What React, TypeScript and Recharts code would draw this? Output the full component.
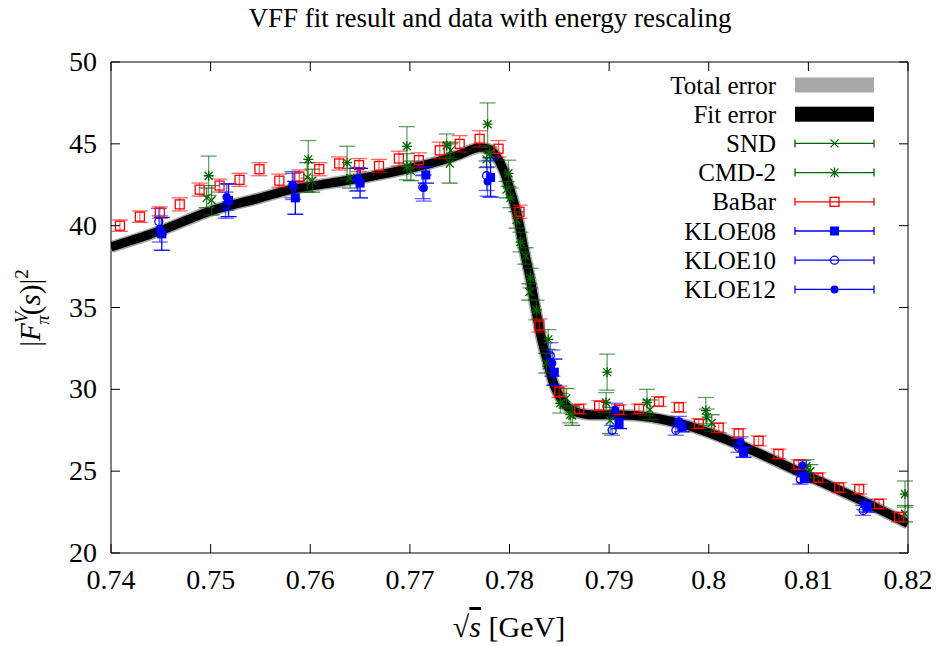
import React from 'react';
import {
  ComposedChart, Line, Scatter, XAxis, YAxis, ErrorBar,
} from 'recharts';

// fit curve (central value)
const FIT_X = [0.74, 0.745, 0.75, 0.755, 0.758, 0.762, 0.766, 0.77, 0.773, 0.775, 0.7762, 0.777, 0.7778, 0.7786, 0.7794, 0.7801, 0.7808, 0.7814, 0.7821, 0.7826, 0.7831, 0.7838, 0.7844, 0.785, 0.7856, 0.7862, 0.787, 0.788, 0.79, 0.7925, 0.795, 0.7975, 0.8, 0.8025, 0.805, 0.8075, 0.81, 0.815, 0.82];
const FIT_Y = [38.7, 39.7, 40.9, 41.7, 42.2, 42.6, 43.0, 43.5, 43.95, 44.35, 44.65, 44.78, 44.7, 44.3, 43.4, 42.1, 40.6, 38.7, 36.7, 35.0, 33.4, 31.7, 30.4, 29.6, 29.05, 28.75, 28.55, 28.45, 28.45, 28.4, 28.2, 27.85, 27.35, 26.75, 26.1, 25.4, 24.7, 23.3, 21.8];

const SND_X = [0.7496, 0.7501, 0.7597, 0.7602, 0.7640, 0.7701, 0.7741, 0.7740, 0.7777, 0.7797, 0.7807, 0.7816, 0.7820, 0.7837, 0.7857, 0.7863, 0.7901, 0.7941, 0.8003, 0.8102, 0.8197];
const SND_Y = [41.7, 41.55, 42.95, 42.75, 42.9, 43.35, 44.6, 43.8, 44.05, 42.2, 40.35, 38.15, 35.95, 31.6, 29.45, 28.4, 28.1, 28.75, 27.95, 25.0, 22.4];
const SND_E = [0.6, 0.9, 0.9, 0.7, 0.6, 0.6, 0.5, 1.2, 0.5, 0.5, 0.5, 0.5, 0.5, 0.6, 0.6, 0.6, 0.8, 0.6, 0.5, 0.4, 0.5];

const CMD_X = [0.7498, 0.7598, 0.7637, 0.7697, 0.7697, 0.7737, 0.7778, 0.7780, 0.7799, 0.7801, 0.7811, 0.7821, 0.7827, 0.7839, 0.7851, 0.7861, 0.7898, 0.7897, 0.7938, 0.7997, 0.7998, 0.8098, 0.8197];
const CMD_Y = [43.05, 44.05, 43.85, 44.85, 43.6, 44.9, 46.2, 44.4, 43.2, 41.7, 39.0, 36.8, 34.85, 33.05, 29.15, 28.45, 31.05, 29.2, 29.2, 28.7, 28.3, 25.3, 23.6];
const CMD_E = [1.2, 1.15, 1.0, 1.2, 0.8, 0.7, 1.3, 0.4, 0.8, 0.6, 0.6, 0.6, 0.6, 0.6, 0.6, 0.5, 1.1, 0.6, 0.8, 0.8, 0.5, 0.4, 0.8];

const BABAR_X = [0.7409, 0.7429, 0.7449, 0.7469, 0.7489, 0.7509, 0.7529, 0.7549, 0.7569, 0.7589, 0.7609, 0.7629, 0.7649, 0.7669, 0.7689, 0.7709, 0.773, 0.775, 0.777, 0.7789, 0.781, 0.783, 0.785, 0.787, 0.789, 0.791, 0.793, 0.795, 0.797, 0.799, 0.801, 0.803, 0.805, 0.807, 0.809, 0.811, 0.8131, 0.8151, 0.8171, 0.8191];
const BABAR_Y = [40.0, 40.55, 40.8, 41.3, 42.2, 42.45, 42.8, 43.45, 42.75, 43.0, 43.45, 43.8, 43.7, 43.65, 44.1, 44.0, 44.6, 45.0, 45.3, 44.7, 40.85, 33.9, 29.85, 28.8, 29.0, 28.75, 28.8, 29.25, 28.9, 27.9, 27.65, 27.3, 26.85, 26.05, 25.4, 24.6, 24.0, 23.9, 23.0, 22.2];
const BABAR_E = [0.35, 0.35, 0.35, 0.4, 0.4, 0.4, 0.4, 0.4, 0.4, 0.4, 0.4, 0.4, 0.4, 0.4, 0.45, 0.45, 0.5, 0.5, 0.5, 0.5, 0.4, 0.4, 0.35, 0.3, 0.3, 0.3, 0.3, 0.3, 0.3, 0.3, 0.3, 0.3, 0.3, 0.3, 0.3, 0.3, 0.3, 0.3, 0.3, 0.3];

const K08_X = [0.7451, 0.7518, 0.7585, 0.765, 0.7716, 0.7781, 0.7845, 0.791, 0.7973, 0.8035, 0.8096, 0.8159];
const K08_Y = [39.5, 41.55, 41.7, 42.6, 43.1, 42.95, 31.05, 27.9, 27.7, 26.15, 24.6, 22.8];
const K08_E = [1.0, 1.0, 1.0, 0.9, 0.5, 1.2, 0.8, 0.3, 0.3, 0.3, 0.3, 0.3];

const K10_X = [0.7448, 0.7515, 0.7583, 0.7647, 0.7713, 0.7777, 0.7841, 0.7903, 0.7967, 0.803, 0.8092, 0.8155];
const K10_Y = [40.25, 41.25, 42.4, 42.8, 42.35, 43.05, 32.05, 27.5, 27.5, 26.45, 24.5, 22.6];
const K10_E = [0.8, 0.8, 0.8, 0.7, 0.7, 0.9, 0.8, 0.3, 0.3, 0.3, 0.3, 0.3];

const K12_X = [0.7449, 0.7516, 0.7582, 0.7648, 0.7714, 0.7778, 0.7843, 0.7906, 0.797, 0.8032, 0.8094, 0.8156];
const K12_Y = [39.8, 41.75, 42.5, 42.85, 42.3, 42.7, 31.6, 28.75, 28.05, 26.8, 25.35, 22.95];
const K12_E = [0.8, 0.8, 0.8, 0.7, 0.8, 0.9, 0.8, 0.4, 0.3, 0.3, 0.3, 0.3];

const X_TICKS = [0.74, 0.75, 0.76, 0.77, 0.78, 0.79, 0.8, 0.81, 0.82];
const Y_TICKS = [20, 25, 30, 35, 40, 45, 50];

const LEGEND = ['Total error', 'Fit error', 'SND', 'CMD-2', 'BaBar', 'KLOE08', 'KLOE10', 'KLOE12'];

const FONT = '"Liberation Serif", "DejaVu Serif", serif';
const GREEN = '#006400';
const RED = '#ff0000';
const BLUE = '#0000ff';

const pts = (xs: number[], ys: number[], es?: number[]) =>
  xs.map((x, i) => ({ x, y: ys[i], e: es ? es[i] : 0 }));

const fit = pts(FIT_X, FIT_Y);

// marker shapes
const Cross = ({ cx, cy }: any) => (
  <path d={`M${cx - 4},${cy - 4}L${cx + 4},${cy + 4}M${cx - 4},${cy + 4}L${cx + 4},${cy - 4}`} stroke={GREEN} strokeWidth={1.3} />
);
const Star = ({ cx, cy }: any) => (
  <path d={`M${cx - 4},${cy - 4}L${cx + 4},${cy + 4}M${cx - 4},${cy + 4}L${cx + 4},${cy - 4}M${cx - 5},${cy}L${cx + 5},${cy}M${cx},${cy - 5}L${cx},${cy + 5}`} stroke={GREEN} strokeWidth={1.3} />
);
const OpenSquare = ({ cx, cy }: any) => (
  <rect x={cx - 4.5} y={cy - 4.5} width={9} height={9} fill="none" stroke={RED} strokeWidth={1.3} />
);
const FilledSquare = ({ cx, cy }: any) => (
  <rect x={cx - 4.5} y={cy - 4.5} width={9} height={9} fill={BLUE} />
);
const OpenCircle = ({ cx, cy }: any) => (
  <circle cx={cx} cy={cy} r={4} fill="none" stroke={BLUE} strokeWidth={1.3} />
);
const FilledCircle = ({ cx, cy }: any) => (
  <circle cx={cx} cy={cy} r={4} fill={BLUE} />
);

const fmtX = (v: number) => String(Number(v.toFixed(2)));

const BottomTick = ({ x, y, payload }: any) => (
  <g>
    <line x1={x} x2={x} y1={y} y2={y - 9} stroke="#000" />
    <text x={x} y={y + 36} textAnchor="middle" fontSize={28} fontFamily={FONT} fill="#000">{fmtX(payload.value)}</text>
  </g>
);
const TopTick = ({ x, y }: any) => <line x1={x} x2={x} y1={y} y2={y + 9} stroke="#000" />;
const LeftTick = ({ x, y, payload }: any) => (
  <g>
    <line x1={x} x2={x + 9} y1={y} y2={y} stroke="#000" />
    <text x={x - 14} y={y + 9} textAnchor="end" fontSize={28} fontFamily={FONT} fill="#000">{payload.value}</text>
  </g>
);
const RightTick = ({ x, y }: any) => <line x1={x} x2={x - 9} y1={y} y2={y} stroke="#000" />;

const sampleLine = (y: number, color: string, marker: React.ReactNode) => (
  <g>
    <line x1={795} x2={874} y1={y} y2={y} stroke={color} strokeWidth={1.3} />
    <line x1={795} x2={795} y1={y - 4} y2={y + 4} stroke={color} strokeWidth={1.3} />
    <line x1={874} x2={874} y1={y - 4} y2={y + 4} stroke={color} strokeWidth={1.3} />
    {marker}
  </g>
);

export default function App() {
  const rowY = (i: number) => 85 + i * 29.2;
  const mx = 834.5;
  return (
    <div style={{ position: 'absolute', left: 0, top: 0, width: 939, height: 646, background: '#fff' }}>
      <ComposedChart width={939} height={646} margin={{ top: 61, right: 30, bottom: 92, left: 110 }}>
        <XAxis dataKey="x" type="number" domain={[0.74, 0.82]} ticks={X_TICKS} allowDataOverflow
          height={1} tickSize={0} tickMargin={0} tickLine={false} tick={<BottomTick />}
          axisLine={{ stroke: '#000' }} interval={0} />
        <XAxis xAxisId="top" orientation="top" dataKey="x" type="number" domain={[0.74, 0.82]} ticks={X_TICKS} allowDataOverflow
          height={1} tickSize={0} tickMargin={0} tickLine={false} tick={<TopTick />}
          axisLine={{ stroke: '#000' }} interval={0} />
        <YAxis type="number" domain={[20, 50]} ticks={Y_TICKS} allowDataOverflow
          width={1} tickSize={0} tickMargin={0} tickLine={false} tick={<LeftTick />}
          axisLine={{ stroke: '#000' }} interval={0} />
        <YAxis yAxisId="right" orientation="right" type="number" domain={[20, 50]} ticks={Y_TICKS} allowDataOverflow
          width={1} tickSize={0} tickMargin={0} tickLine={false} tick={<RightTick />}
          axisLine={{ stroke: '#000' }} interval={0} />

        <Line data={fit} dataKey="y" type="monotone" stroke="#a8a8a8" strokeWidth={12} dot={false} isAnimationActive={false} />
        <Line data={fit} dataKey="y" type="monotone" stroke="#000" strokeWidth={9} dot={false} isAnimationActive={false} />

        <Scatter data={pts(SND_X, SND_Y, SND_E)} dataKey="y" shape={<Cross />} isAnimationActive={false}>
          <ErrorBar dataKey="e" direction="y" width={8} stroke={GREEN} strokeOpacity={0.75} strokeWidth={1.3} />
        </Scatter>
        <Scatter data={pts(CMD_X, CMD_Y, CMD_E)} dataKey="y" shape={<Star />} isAnimationActive={false}>
          <ErrorBar dataKey="e" direction="y" width={8} stroke={GREEN} strokeOpacity={0.6} strokeWidth={1.3} />
        </Scatter>
        <Scatter data={pts(BABAR_X, BABAR_Y, BABAR_E)} dataKey="y" shape={<OpenSquare />} isAnimationActive={false}>
          <ErrorBar dataKey="e" direction="y" width={8} stroke={RED} strokeOpacity={0.6} strokeWidth={1.3} />
        </Scatter>
        <Scatter data={pts(K08_X, K08_Y, K08_E)} dataKey="y" shape={<FilledSquare />} isAnimationActive={false}>
          <ErrorBar dataKey="e" direction="y" width={8} stroke={BLUE} strokeWidth={1.3} />
        </Scatter>
        <Scatter data={pts(K10_X, K10_Y, K10_E)} dataKey="y" shape={<OpenCircle />} isAnimationActive={false}>
          <ErrorBar dataKey="e" direction="y" width={8} stroke={BLUE} strokeOpacity={0.6} strokeWidth={1.3} />
        </Scatter>
        <Scatter data={pts(K12_X, K12_Y, K12_E)} dataKey="y" shape={<FilledCircle />} isAnimationActive={false}>
          <ErrorBar dataKey="e" direction="y" width={8} stroke={BLUE} strokeOpacity={0.6} strokeWidth={1.3} />
        </Scatter>
      </ComposedChart>

      <svg width={939} height={646} style={{ position: 'absolute', left: 0, top: 0, pointerEvents: 'none' }} fontFamily={FONT}>
        <text x={490} y={27} textAnchor="middle" fontSize={27}>VFF fit result and data with energy rescaling</text>
        <text x={509} y={637} textAnchor="middle" fontSize={30}>
          <tspan>√</tspan><tspan fontStyle="italic" textDecoration="overline">s</tspan><tspan> [GeV]</tspan>
        </text>
        <text transform="rotate(-90 40 308)" x={40} y={308} textAnchor="middle" fontSize={29}>
          <tspan>|</tspan><tspan fontStyle="italic">F</tspan>
          <tspan fontSize={19} fontStyle="italic" dy={-12}>V</tspan>
          <tspan fontSize={19} fontStyle="italic" dx={-13} dy={21}>π</tspan>
          <tspan dy={-9}>(</tspan><tspan fontStyle="italic">s</tspan><tspan>)|</tspan>
          <tspan fontSize={19} dy={-12}>2</tspan>
        </text>

        {LEGEND.map((name, i) => (
          <text key={name} x={776} y={rowY(i) + 8.5} textAnchor="end" fontSize={25}>{name}</text>
        ))}
        <rect x={795} y={rowY(0) - 7.5} width={79} height={15} fill="#a8a8a8" />
        <rect x={795} y={rowY(1) - 7.5} width={79} height={15} fill="#000" />
        {sampleLine(rowY(2), GREEN, <Cross cx={mx} cy={rowY(2)} />)}
        {sampleLine(rowY(3), GREEN, <Star cx={mx} cy={rowY(3)} />)}
        {sampleLine(rowY(4), RED, <OpenSquare cx={mx} cy={rowY(4)} />)}
        {sampleLine(rowY(5), BLUE, <FilledSquare cx={mx} cy={rowY(5)} />)}
        {sampleLine(rowY(6), BLUE, <OpenCircle cx={mx} cy={rowY(6)} />)}
        {sampleLine(rowY(7), BLUE, <FilledCircle cx={mx} cy={rowY(7)} />)}
      </svg>
    </div>
  );
}
